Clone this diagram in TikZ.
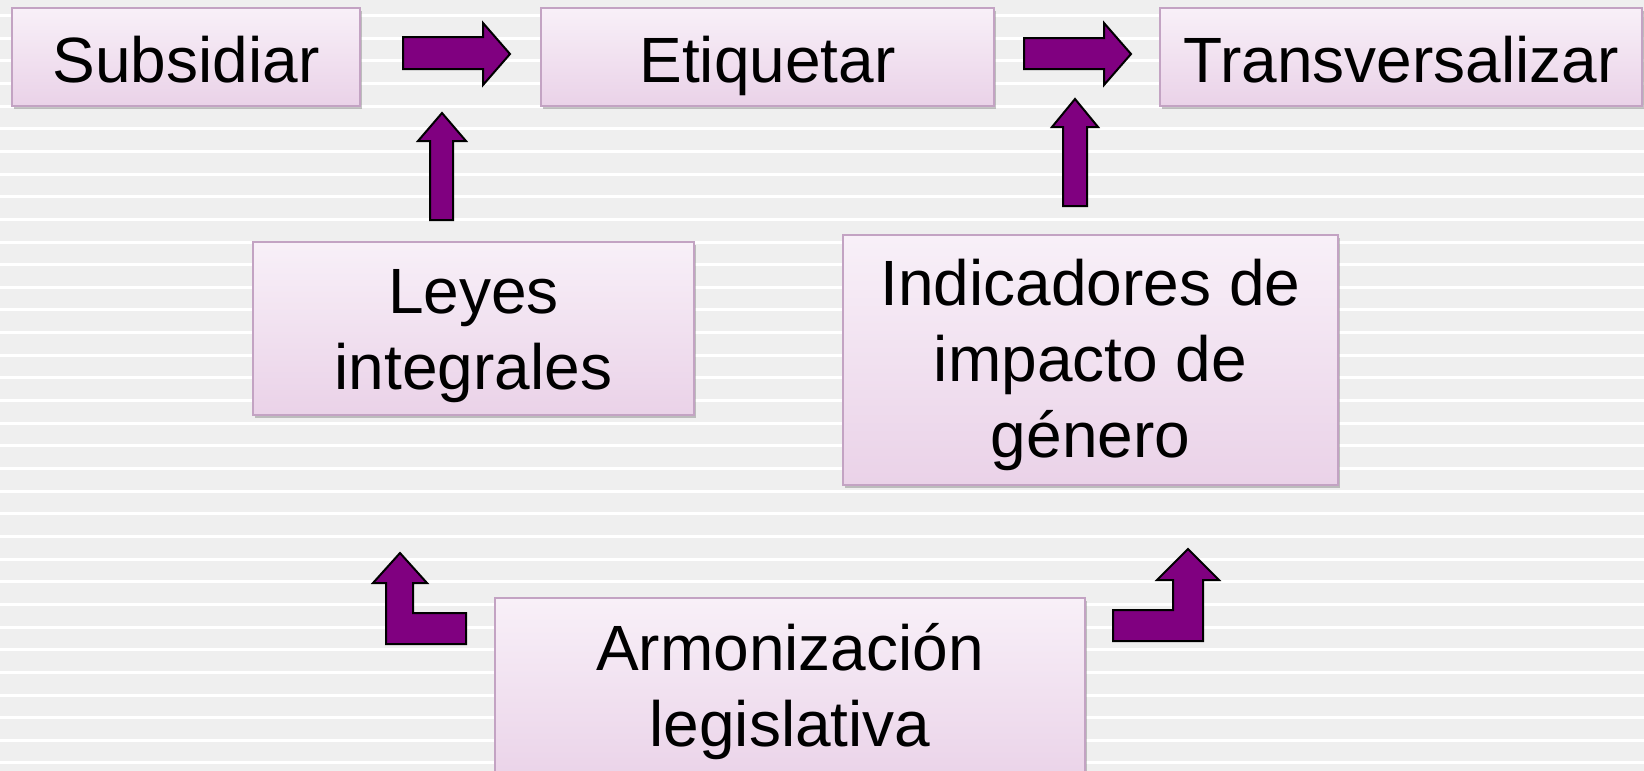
\documentclass[tikz,border=0pt]{standalone}
\usepackage{fontspec}
\setmainfont{Liberation Sans}
\usetikzlibrary{shadows}
\definecolor{boxtop}{HTML}{F8F0F8}
\definecolor{boxbot}{HTML}{EAD2E8}
\definecolor{boxline}{HTML}{C3A3C3}
\definecolor{arrowfill}{HTML}{800080}
\definecolor{bggray}{HTML}{E7E7E7}
\definecolor{bglight}{HTML}{EFEFEF}
\definecolor{bgdark}{HTML}{E2E2E2}
\tikzset{
  box/.style={draw=boxline, line width=1.5pt, top color=boxtop, bottom color=boxbot,
    inner sep=0pt,
    drop shadow={shadow xshift=2pt, shadow yshift=-3pt, opacity=0.45}},
  label/.style={inner sep=0pt, anchor=base, align=center, font=\fontsize{64}{76}\selectfont},
  blockarrow/.style={fill=arrowfill, draw=black, line width=2pt, line join=miter},
}
\begin{document}
\begin{tikzpicture}[x=1pt, y=-1pt]
\useasboundingbox (0,0) rectangle (1644,771);
\clip (0,0) rectangle (1644,771);
% background stripes
\fill[bggray] (0,0) rectangle (1644,771);
\foreach \i in {-1,...,34} {
  \pgfmathsetmacro\yy{14+22.65*\i}
  \fill[white] (0,\yy) rectangle (1644,\yy+3.5);
  \shade[top color=bglight, middle color=bgdark, bottom color=bglight] (0,\yy+3.5) rectangle (1644,\yy+22.65);
}
% boxes
\node[box, minimum width=348pt, minimum height=98pt] (subsidiar) at (186,57) {};
\node[box, minimum width=453pt, minimum height=98pt] (etiquetar) at (767.5,57) {};
\node[box, minimum width=482pt, minimum height=98pt] (transv) at (1401,57) {};
\node[box, minimum width=441pt, minimum height=173pt] (leyes) at (473.5,328.5) {};
\node[box, minimum width=495pt, minimum height=250pt] (indic) at (1090.5,360) {};
\node[box, minimum width=590pt, minimum height=188pt] (armon) at (790,692) {};
% texts
\node[label] (subsidiar-t) at (subsidiar.center |- 0,82) {Subsidiar};
\node[label] (etiquetar-t) at (etiquetar.center |- 0,82) {Etiquetar};
\node[label] (transv-t) at (transv.center |- 0,82) {Transversalizar};
\node[label] (leyes-t) at (leyes.center |- 0,389) {Leyes\\integrales};
\node[label] (indic-t) at (indic.center |- 0,457) {Indicadores de\\impacto de\\género};
\node[label] (armon-t) at (armon.center |- 0,746) {Armonización\\legislativa};
% block arrows
\draw[blockarrow] (403,37) -- (483,37) -- (483,23) -- (510,54) -- (483,85) -- (483,69) -- (403,69) -- cycle;
\draw[blockarrow] (1024,38) -- (1104,38) -- (1104,23) -- (1131,54) -- (1104,85) -- (1104,69) -- (1024,69) -- cycle;
\draw[blockarrow] (430,220) -- (430,141) -- (418,141) -- (442,113) -- (466,141) -- (453,141) -- (453,220) -- cycle;
\draw[blockarrow] (1063,206) -- (1063,127) -- (1052,127) -- (1075,99) -- (1098,127) -- (1087,127) -- (1087,206) -- cycle;
\draw[blockarrow] (386,644) -- (386,583) -- (373,583) -- (400,553) -- (427,583) -- (413,583) -- (413,613) -- (466,613) -- (466,644) -- cycle;
\draw[blockarrow] (1113,641) -- (1113,610) -- (1173,610) -- (1173,580) -- (1157,580) -- (1188,549) -- (1219,580) -- (1203,580) -- (1203,641) -- cycle;
\end{tikzpicture}
\end{document}
